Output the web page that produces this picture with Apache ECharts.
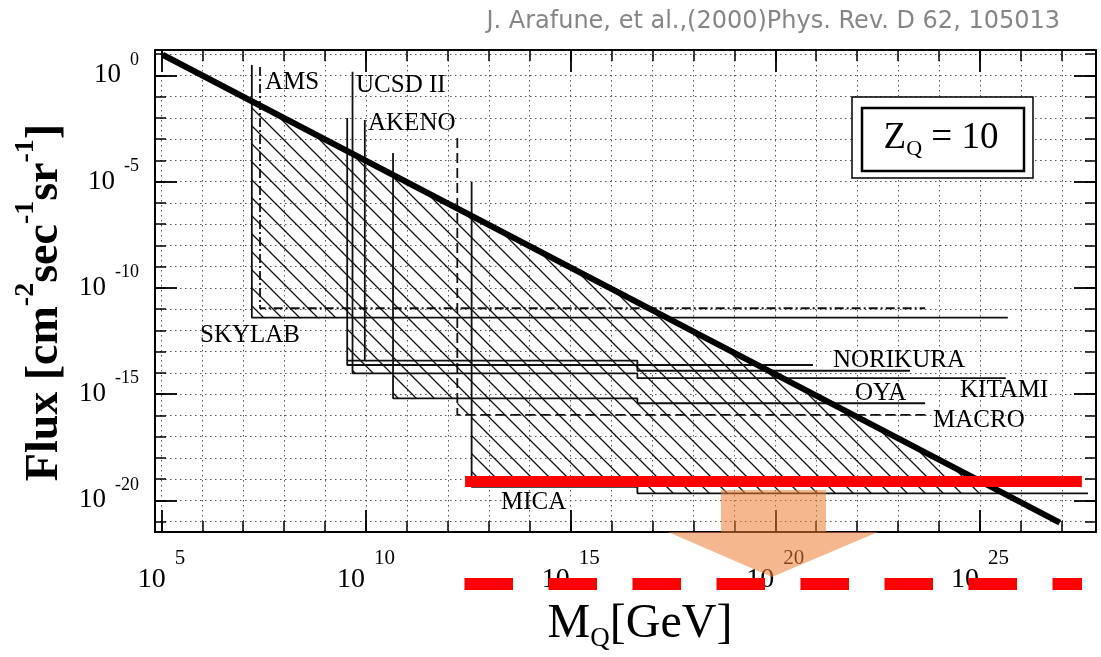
<!DOCTYPE html>
<html>
<head>
<meta charset="utf-8">
<script src="https://cdn.jsdelivr.net/npm/echarts@6/dist/echarts.min.js"></script>
<style>html,body{margin:0;padding:0;background:#fff}#c{width:1101px;height:657px}</style>
</head>
<body>
<div id="c"></div>
<script>
// All values are log10 exponents: x = log10(M_Q / GeV), y = log10(Flux / cm^-2 sec^-1 sr^-1)
const xTickExps = [5,6,7,8,9,10,11,12,13,14,15,16,17,18,19,20,21,22,23,24,25,26,27];
const xLabelExps = [5,10,15,20,25];
const yTickExps = [1,0,-1,-2,-3,-4,-5,-6,-7,-8,-9,-10,-11,-12,-13,-14,-15,-16,-17,-18,-19,-20,-21];
const yLabelExps = [0,-5,-10,-15,-20];

// thick bound line
const boundLogM = [5.03, 26.95];
const boundLogF = [0.97, -21.05];

// experimental limits (polylines)
const skylabLogM = [7.21, 7.21, 25.68];
const skylabLogF = [0.49, -11.40, -11.40];
const amsLogM = [7.41, 7.41, 23.66];
const amsLogF = [0.40, -10.96, -10.96];
const ucsdLogM = [9.67, 9.67, 16.63, 16.63, 25.63];
const ucsdLogF = [0.17, -14.02, -14.02, -14.25, -14.25];
const akenoLogM = [9.97, 9.97, 9.54, 16.63, 16.63, 20.92];
const akenoLogF = [-2.10, -13.42, -13.42, -13.42, -13.63, -13.63];
const norikuraLogM = [9.54, 9.54, 16.63, 16.63, 23.29];
const norikuraLogF = [-2.00, -13.63, -13.63, -13.90, -13.90];
const oyaLogM = [10.66, 10.66, 16.63, 16.63, 23.66];
const oyaLogF = [-3.65, -15.20, -15.20, -15.43, -15.43];
const macroLogM = [12.23, 12.23, 23.78];
const macroLogF = [-2.95, -15.98, -15.98];
const micaLogM = [12.58, 12.58, 16.63, 16.63, 27.64];
const micaLogF = [-5.00, -19.37, -19.37, -19.67, -19.67];

// hatched excluded region
const hatchLogM = [7.21, 25.67, 16.63, 16.63, 12.58, 12.58, 12.23, 12.23, 10.66, 10.66, 9.67, 9.67, 9.54, 9.54, 7.21];
const hatchLogF = [-1.21, -19.67, -19.67, -19.37, -19.37, -15.98, -15.98, -15.20, -15.20, -14.02, -14.02, -13.63, -13.63, -11.43, -11.43];

// red highlighted flux level
const redLogM = [12.42, 27.49];
const redLogF = [-19.11, -19.11];

const expLabels = ['AMS','UCSD II','AKENO','SKYLAB','NORIKURA','KITAMI','OYA','MACRO','MICA'];

const pair = (ms, fs) => ms.map((m, i) => [m, fs[i]]);
const serif = '"Liberation Serif", "Times New Roman", serif';

function makeHatch() {
  const s = 18, c = document.createElement('canvas');
  c.width = s; c.height = s;
  const g = c.getContext('2d');
  g.strokeStyle = '#111'; g.lineWidth = 1.3;
  g.beginPath();
  for (const o of [-s, 0, s]) { g.moveTo(o - 1, -1); g.lineTo(o + s + 1, s + 1); }
  g.stroke();
  return c;
}
const hatchCanvas = makeHatch();

const X_MIN = 4.844, X_MAX = 27.835, Y_MIN = -21.49, Y_MAX = 1.195;
const axisLine = {show: true, onZero: false, lineStyle: {color: '#000', width: 2}};
const noLine = {show: false, onZero: false};
const minorTick = v => ({show: true, inside: true, length: 11, customValues: v, lineStyle: {color: '#000', width: 1.5}});
const majorTick = v => ({show: true, inside: true, length: 22, customValues: v, lineStyle: {color: '#000', width: 1.8}});
const gridLine = {show: true, lineStyle: {color: '#555', width: 1, type: [1.5, 3.5]}};
const off = {show: false};

const xBase = {type: 'value', min: X_MIN, max: X_MAX, splitLine: off, axisLabel: off};
const yBase = {type: 'value', min: Y_MIN, max: Y_MAX, splitLine: off, axisLabel: off};

const lineSer = (m, f, type) => ({
  type: 'line', data: pair(m, f), symbol: 'none', z: 3, silent: true,
  lineStyle: {color: '#111', width: 1.8, type: type || 'solid'}
});

const labelPos = [[265,82],[356,85],[368,123],[200,335],[833,360],[960,390],[855,393],[933,420],[501,502]];

const option = {
  animation: false,
  backgroundColor: '#fff',
  grid: {left: 155, right: 5, top: 50, bottom: 125, containLabel: false, outerBoundsMode: 'none'},
  xAxis: [
    Object.assign({}, xBase, {position: 'bottom', axisLine: axisLine, axisTick: minorTick(xTickExps), splitLine: gridLine}),
    Object.assign({}, xBase, {position: 'bottom', axisLine: noLine, axisTick: majorTick(xLabelExps),
      axisLabel: {show: true, customValues: xLabelExps, margin: 16, color: '#000',
        formatter: v => '{b|10}{s|' + v + '}',
        rich: {b: {fontFamily: serif, fontSize: 28, color: '#000', lineHeight: 64, verticalAlign: 'middle'},
               s: {fontFamily: serif, fontSize: 21, color: '#000', lineHeight: 20, verticalAlign: 'top', padding: [0,0,0,9]}}},
      name: '{m|M}{q|Q}{m|[GeV]}', nameLocation: 'middle', nameGap: 68, nameMoveOverlap: false,
      nameTextStyle: {padding: [0,0,0,29],
        rich: {m: {fontFamily: serif, fontSize: 48, color: '#000', lineHeight: 52, verticalAlign: 'top'},
               q: {fontFamily: serif, fontSize: 27, color: '#000', lineHeight: 20, verticalAlign: 'bottom'}}}}),
    Object.assign({}, xBase, {position: 'top', axisLine: axisLine, axisTick: minorTick(xTickExps)}),
    Object.assign({}, xBase, {position: 'top', axisLine: noLine, axisTick: majorTick(xLabelExps)})
  ],
  yAxis: [
    Object.assign({}, yBase, {position: 'left', axisLine: axisLine, axisTick: minorTick(yTickExps), splitLine: gridLine}),
    Object.assign({}, yBase, {position: 'left', axisLine: noLine, axisTick: majorTick(yLabelExps),
      axisLabel: {show: true, customValues: yLabelExps, margin: 16, color: '#000',
        formatter: v => '{b|10}{s|' + v + '}',
        rich: {b: {fontFamily: serif, fontSize: 27, color: '#000', lineHeight: 49, verticalAlign: 'middle'},
               s: {fontFamily: serif, fontSize: 18, color: '#000', lineHeight: 17, verticalAlign: 'top', padding: [0,0,0,9]}}},
      name: '{f|Flux [cm}{s|-2}{f|sec}{s|-1}{f|sr}{s|-1}{f|]}', nameLocation: 'middle', nameRotate: 90, nameGap: 87, nameMoveOverlap: false,
      nameTextStyle: {padding: [0,23,0,0],
        rich: {f: {fontFamily: serif, fontWeight: 'bold', fontSize: 46, color: '#000', lineHeight: 56, verticalAlign: 'bottom'},
               s: {fontFamily: serif, fontWeight: 'bold', fontSize: 28, color: '#000', lineHeight: 27, verticalAlign: 'top'}}}}),
    Object.assign({}, yBase, {position: 'right', axisLine: axisLine, axisTick: minorTick(yTickExps)}),
    Object.assign({}, yBase, {position: 'right', axisLine: noLine, axisTick: majorTick(yLabelExps)})
  ],
  series: [
    {
      type: 'custom', z: 2, silent: true, xAxisIndex: 0, yAxisIndex: 0,
      data: [[hatchLogM[0], hatchLogF[0]]],
      renderItem: (params, api) => ({
        type: 'polygon',
        shape: {points: hatchLogM.map((m, i) => api.coord([m, hatchLogF[i]]))},
        style: {fill: {image: hatchCanvas, repeat: 'repeat'}, stroke: null}
      })
    },
    lineSer(skylabLogM, skylabLogF),
    lineSer(amsLogM, amsLogF, [9, 3, 2, 3]),
    lineSer(ucsdLogM, ucsdLogF),
    lineSer(akenoLogM, akenoLogF),
    lineSer(norikuraLogM, norikuraLogF),
    lineSer(oyaLogM, oyaLogF),
    lineSer(macroLogM, macroLogF, [10, 5]),
    lineSer(micaLogM, micaLogF),
    {type: 'line', data: pair(boundLogM, boundLogF), symbol: 'none', z: 4, silent: true,
     lineStyle: {color: '#000', width: 6, cap: 'butt'}},
    {type: 'line', data: pair(redLogM, redLogF), symbol: 'none', z: 5, silent: true,
     lineStyle: {color: '#ff0000', width: 11, cap: 'butt'}}
  ],
  graphic: [
    {type: 'text', x: 1060, y: 22, z: 50,
     style: {text: 'J. Arafune, et al.,(2000)Phys. Rev. D 62, 105013', fontFamily: '"DejaVu Sans", sans-serif', fontSize: 24, fill: '#868686', align: 'right', verticalAlign: 'middle'}},
    {type: 'rect', z: 20, shape: {x: 852, y: 97, width: 181, height: 81}, style: {fill: '#fff', stroke: '#000', lineWidth: 1.5}},
    {type: 'rect', z: 21, shape: {x: 862, y: 108, width: 162, height: 63}, style: {fill: 'none', stroke: '#000', lineWidth: 2.5}},
    {type: 'text', x: 941, y: 138, z: 22,
     style: {text: '{z|Z}{q|Q}{z| = 10}', align: 'center', verticalAlign: 'middle',
       rich: {z: {fontFamily: serif, fontSize: 37, fill: '#000', lineHeight: 44, verticalAlign: 'middle'},
              q: {fontFamily: serif, fontSize: 22, fill: '#000', lineHeight: 12, verticalAlign: 'bottom'}}}}
  ].concat(expLabels.map((t, i) => ({
    type: 'text', x: labelPos[i][0], y: labelPos[i][1], z: 30,
    style: {text: t, fontFamily: serif, fontSize: 25, fill: '#000', align: 'left', verticalAlign: 'middle'}
  }))).concat([
    {type: 'line', z: 60, shape: {x1: 464.5, y1: 584, x2: 1082, y2: 584},
     style: {stroke: '#ff0000', lineWidth: 12, lineDash: [48.5, 35.5]}},
    {type: 'polygon', z: 70, shape: {points: [[721,490],[826,490],[826,532],[878,532],[772,577],[668,532],[721,532]]},
     style: {fill: 'rgba(237,125,49,0.55)'}}
  ])
};

const chart = echarts.init(document.getElementById('c'), null, {renderer: 'canvas'});
chart.setOption(option);
</script>
</body>
</html>
